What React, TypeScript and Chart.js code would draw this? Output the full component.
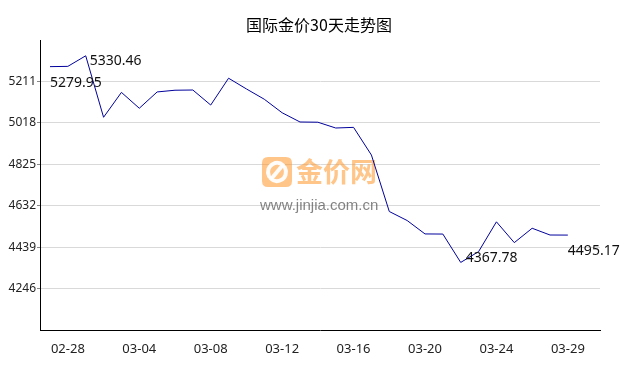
import React, { useEffect, useRef } from "react";
import { Chart, registerables } from "chart.js";

Chart.register(...registerables);

const titleText = "国际金价30天走势图";

const dates = [
  "02-27", "02-28", "03-01", "03-02", "03-03", "03-04", "03-05", "03-06", "03-07", "03-08",
  "03-09", "03-10", "03-11", "03-12", "03-13", "03-14", "03-15", "03-16", "03-17", "03-18",
  "03-19", "03-20", "03-21", "03-22", "03-23", "03-24", "03-25", "03-26", "03-27", "03-29",
];

const prices = [
  5279.95, 5281.2, 5330.46, 5044.0, 5160.0, 5086.0, 5162.0, 5170.0, 5171.0, 5101.0,
  5226.0, 5176.0, 5128.0, 5065.0, 5022.0, 5021.0, 4994.0, 4997.0, 4868.0, 4605.0,
  4563.0, 4500.5, 4500.0, 4367.78, 4418.0, 4557.0, 4460.0, 4527.0, 4495.5, 4495.17,
];

const yTickValues = [4246, 4439, 4632, 4825, 5018, 5211];
const yMin = 4053;
const yMax = 5404;
const xTickIndices = [1, 5, 9, 13, 17, 21, 25, 29];

const overlayPlugin = {
  id: "overlay",
  beforeDatasetsDraw(chart: any) {
    const ctx = chart.ctx;
    ctx.save();
    const lx = 262, ly = 157, ls = 30, r = 6;
    ctx.fillStyle = "rgba(255,150,40,0.55)";
    ctx.beginPath();
    ctx.moveTo(lx + r, ly);
    ctx.lineTo(lx + ls - r, ly);
    ctx.quadraticCurveTo(lx + ls, ly, lx + ls, ly + r);
    ctx.lineTo(lx + ls, ly + ls - r);
    ctx.quadraticCurveTo(lx + ls, ly + ls, lx + ls - r, ly + ls);
    ctx.lineTo(lx + r, ly + ls);
    ctx.quadraticCurveTo(lx, ly + ls, lx, ly + ls - r);
    ctx.lineTo(lx, ly + r);
    ctx.quadraticCurveTo(lx, ly, lx + r, ly);
    ctx.closePath();
    ctx.fill();
    ctx.strokeStyle = "rgba(255,255,255,0.95)";
    ctx.lineWidth = 4;
    ctx.lineCap = "round";
    ctx.beginPath();
    ctx.arc(lx + ls / 2, ly + ls / 2, 9, Math.PI * 0.85, Math.PI * 1.75);
    ctx.stroke();
    ctx.beginPath();
    ctx.arc(lx + ls / 2, ly + ls / 2, 9, Math.PI * 1.85, Math.PI * 0.75);
    ctx.stroke();
    ctx.beginPath();
    ctx.moveTo(lx + 10, ly + 21);
    ctx.lineTo(lx + 20, ly + 9);
    ctx.stroke();
    ctx.fillStyle = "rgba(255,150,40,0.55)";
    ctx.font = "bold 27px 'Noto Sans CJK SC'";
    ctx.textAlign = "left";
    ctx.textBaseline = "middle";
    ctx.fillText("金价网", 296, 172);
    ctx.fillStyle = "rgba(90,90,90,0.75)";
    ctx.font = "15px 'Liberation Sans'";
    ctx.fillText("www.jinjia.com.cn", 260, 206);
    ctx.restore();
  },
  afterDatasetsDraw(chart: any) {
    const ctx = chart.ctx;
    const xs = chart.scales.x;
    const ys = chart.scales.y;
    ctx.save();
    ctx.fillStyle = "#000";
    ctx.font = "16px 'Noto Sans CJK SC'";
    ctx.textAlign = "center";
    ctx.textBaseline = "middle";
    ctx.fillText(titleText, 319, 25);

    const last = prices.length - 1;
    let maxI = 0, minI = 0;
    prices.forEach((v, i) => {
      if (v > prices[maxI]) maxI = i;
      if (v < prices[minI]) minI = i;
    });
    const marks = [
      { i: 0, dx: 0, dy: 16 },
      { i: maxI, dx: 4, dy: 5 },
      { i: minI, dx: 5, dy: -4 },
      { i: last, dx: 0, dy: 16 },
    ];
    ctx.font = "14px 'Noto Sans'";
    ctx.textAlign = "left";
    ctx.fillStyle = "#111";
    marks.forEach((m) => {
      const px = xs.getPixelForValue(m.i);
      const py = ys.getPixelForValue(prices[m.i]);
      ctx.fillText(prices[m.i].toFixed(2), px + m.dx, py + m.dy);
    });
    ctx.restore();
  },
};

export default function App() {
  const ref = useRef<HTMLCanvasElement>(null);
  useEffect(() => {
    if (!ref.current) return;
    const chart = new Chart(ref.current, {
      type: "line",
      data: {
        datasets: [
          {
            data: prices.map((v, i) => ({ x: i, y: v })),
            borderColor: "#00009c",
            borderWidth: 1,
            pointRadius: 0,
            tension: 0,
            fill: false,
          },
        ],
      },
      options: {
        animation: false,
        responsive: false,
        events: [],
        layout: { padding: { top: 40, right: 38, left: 0, bottom: 0 } },
        plugins: { legend: { display: false }, tooltip: { enabled: false }, title: { display: false } },
        scales: {
          x: {
            type: "linear",
            min: -0.56,
            max: 30.8,
            afterBuildTicks: (scale: any) => {
              scale.ticks = xTickIndices.map((v) => ({ value: v }));
            },
            afterFit: (scale: any) => {
              scale.height = 40;
            },
            grid: { display: false, drawTicks: true, tickLength: 8 },
            border: { display: true, color: "#000", width: 1 },
            ticks: {
              autoSkip: false,
              maxRotation: 0,
              padding: 3,
              color: "#222",
              font: { family: "'Noto Sans'", size: 13 },
              callback: (v: any) => dates[Number(v)] ?? "",
            },
          },
          y: {
            type: "linear",
            min: yMin,
            max: yMax,
            afterBuildTicks: (scale: any) => {
              scale.ticks = yTickValues.map((v) => ({ value: v }));
            },
            afterFit: (scale: any) => {
              scale.width = 40;
            },
            grid: { color: "#d9d9d9", tickColor: "#888", tickLength: 3, lineWidth: 1 },
            border: { display: true, color: "#000", width: 1 },
            ticks: {
              padding: 1,
              color: "#222",
              font: { family: "'Noto Sans'", size: 12 },
              callback: (v: any) => String(v),
            },
          },
        },
      },
      plugins: [overlayPlugin],
    } as any);
    return () => chart.destroy();
  }, []);
  return (
    <div style={{ position: "absolute", left: 0, top: 0, width: 638, height: 370, background: "#fff" }}>
      <canvas ref={ref} width={638} height={370} style={{ display: "block" }} />
    </div>
  );
}
